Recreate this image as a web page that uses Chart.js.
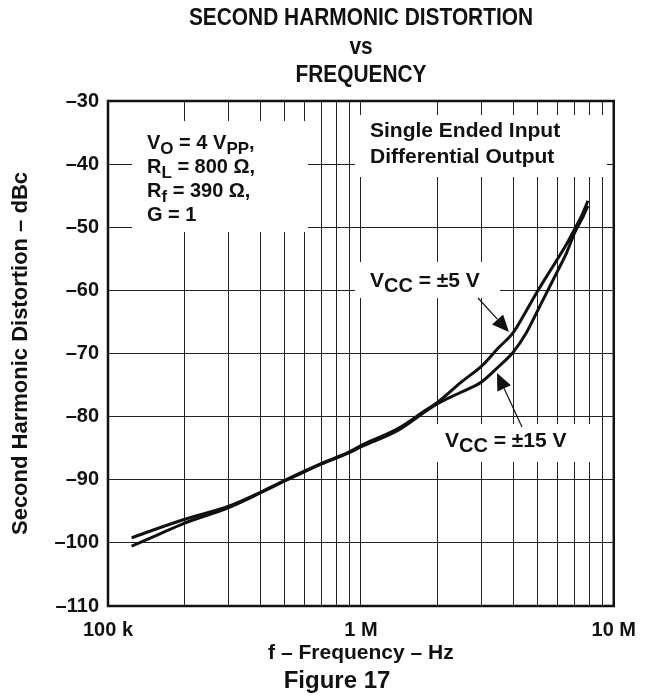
<!DOCTYPE html>
<html><head><meta charset="utf-8">
<script src="https://cdn.jsdelivr.net/npm/chart.js@4/dist/chart.umd.min.js"></script>
<style>html,body{margin:0;padding:0;background:#fff}#wrap{width:648px;height:700px}</style>
</head><body><div id="wrap"><canvas id="c" width="648" height="700"></canvas></div>
<script>
// ---- data ----
const freqHz = [124e3, 150e3, 200e3, 300e3, 400e3, 500e3, 600e3, 700e3, 900e3, 1e6, 1.4e6, 1.8e6, 2e6, 2.5e6, 3e6, 3.5e6, 4e6, 4.5e6, 5e6, 5.5e6, 6e6, 6.5e6, 7e6, 7.5e6, 7.9e6];
const vcc5  = [-99.2, -98.0, -96.3, -94.2, -92.0, -90.1, -88.6, -87.4, -85.6, -84.6, -81.9, -79.0, -77.8, -74.5, -72.0, -69.1, -66.7, -63.3, -60.1, -57.4, -55.0, -52.7, -50.3, -48.0, -45.8];
const vcc15 = [-100.5, -99.1, -96.9, -94.4, -92.1, -90.2, -88.7, -87.5, -85.7, -84.8, -82.2, -79.2, -78.0, -76.1, -74.5, -72.1, -69.8, -66.8, -63.2, -59.9, -56.9, -54.1, -50.9, -48.6, -46.6];
const seriesNames = ['VCC = ±5 V', 'VCC = ±15 V'];

const xGridValues = [1e5, 2e5, 3e5, 4e5, 5e5, 6e5, 7e5, 8e5, 9e5, 1e6, 2e6, 3e6, 4e6, 5e6, 6e6, 7e6, 8e6, 9e6, 1e7];
const xTickValues = [1e5, 1e6, 1e7];
const xTickLabels = ['100 k', '1 M', '10 M'];
const yTickValues = [-110, -100, -90, -80, -70, -60, -50, -40, -30];
const yTickLabels = ['–110', '–100', '–90', '–80', '–70', '–60', '–50', '–40', '–30'];

const titleLines = ['SECOND HARMONIC DISTORTION', 'vs', 'FREQUENCY'];
const xTitle = 'f – Frequency – Hz';
const yTitle = 'Second Harmonic Distortion – dBc';
const figLabel = 'Figure 17';

const FONT = '"Liberation Sans", Arial, Helvetica, sans-serif';

function rich(ctx, x, y, parts, size, subSize) {
  let cx = x;
  for (const [t, sub] of parts) {
    ctx.font = `bold ${sub ? subSize : size}px ${FONT}`;
    ctx.fillText(t, cx, sub ? y + 5 : y);
    cx += ctx.measureText(t).width;
  }
}
function arrow(ctx, x1, y1, x2, y2) {
  const a = Math.atan2(y2 - y1, x2 - x1);
  const L = 17, W = 7.5;
  ctx.beginPath();
  ctx.moveTo(x1, y1);
  ctx.lineTo(x2 - L * Math.cos(a), y2 - L * Math.sin(a));
  ctx.lineWidth = 1.2; ctx.strokeStyle = '#111'; ctx.stroke();
  ctx.beginPath();
  ctx.moveTo(x2, y2);
  ctx.lineTo(x2 - L * Math.cos(a) + W * Math.sin(a), y2 - L * Math.sin(a) - W * Math.cos(a));
  ctx.lineTo(x2 - L * Math.cos(a) - W * Math.sin(a), y2 - L * Math.sin(a) + W * Math.cos(a));
  ctx.closePath(); ctx.fillStyle = '#111'; ctx.fill();
}

const annot = {
  id: 'annot',
  beforeDatasetsDraw(chart) {
    const ctx = chart.ctx;
    ctx.save();
    ctx.fillStyle = '#fff';
    ctx.fillRect(132, 121, 176, 111);
    ctx.fillRect(355, 115, 252, 62);
    ctx.fillRect(355, 262, 145, 36);
    ctx.fillRect(432, 424, 158, 38);
    ctx.fillStyle = '#111';
    ctx.textBaseline = 'alphabetic';
    ctx.textAlign = 'left';
    rich(ctx, 147, 149, [['V', 0], ['O', 1], [' = 4 V', 0], ['PP', 1], [',', 0]], 20, 17);
    rich(ctx, 147, 173, [['R', 0], ['L', 1], [' = 800 Ω,', 0]], 20, 17);
    rich(ctx, 147, 197, [['R', 0], ['f', 1], [' = 390 Ω,', 0]], 20, 17);
    rich(ctx, 147, 221, [['G = 1', 0]], 20, 17);
    rich(ctx, 370, 137, [['Single Ended Input', 0]], 21, 17);
    rich(ctx, 370, 163, [['Differential Output', 0]], 21, 17);
    rich(ctx, 370, 287, [['V', 0], ['CC', 1], [' = ±5 V', 0]], 21, 20);
    rich(ctx, 445, 447, [['V', 0], ['CC', 1], [' = ±15 V', 0]], 21, 20);
    ctx.restore();
  },
  afterDatasetsDraw(chart) {
    const ctx = chart.ctx, a = chart.chartArea;
    ctx.save();
    arrow(ctx, 478, 298, 509, 332);
    arrow(ctx, 522, 427, 497, 373);
    ctx.lineWidth = 2.5; ctx.strokeStyle = '#111';
    ctx.strokeRect(a.left, a.top, a.right - a.left, a.bottom - a.top);
    ctx.fillStyle = '#111';
    ctx.textAlign = 'center';
    ctx.font = `bold 24px ${FONT}`;
    ctx.save();
    ctx.translate(361, 0);
    ctx.scale(0.87, 1);
    ctx.fillText(titleLines[0], 0, 25);
    ctx.fillText(titleLines[1], 0, 54);
    ctx.fillText(titleLines[2], 0, 82);
    ctx.restore();
    ctx.font = `bold 24px ${FONT}`;
    ctx.fillText(figLabel, 337, 688);
    ctx.restore();
  }
};

new Chart(document.getElementById('c'), {
  type: 'line',
  data: {
    datasets: [
      { label: seriesNames[0], data: freqHz.map((f, i) => ({ x: f, y: vcc5[i] })) },
      { label: seriesNames[1], data: freqHz.map((f, i) => ({ x: f, y: vcc15[i] })) }
    ]
  },
  options: {
    responsive: false,
    animation: false,
    layout: { padding: { top: 101, right: 33, left: 0, bottom: 0 } },
    elements: {
      line: { borderColor: '#111', borderWidth: 3, cubicInterpolationMode: 'monotone', fill: false },
      point: { radius: 0 }
    },
    plugins: { legend: { display: false }, tooltip: { enabled: false }, title: { display: false } },
    scales: {
      x: {
        type: 'logarithmic', min: 1e5, max: 1e7,
        afterBuildTicks: s => { s.ticks = xGridValues.map(v => ({ value: v })); },
        afterFit: s => { s.height = 94; },
        grid: { color: '#222', lineWidth: 1, drawTicks: false },
        border: { display: false },
        ticks: {
          autoSkip: false, maxRotation: 0, padding: 12, color: '#111',
          font: { family: FONT, size: 20, weight: 'bold' },
          callback: v => { const i = xTickValues.indexOf(v); return i >= 0 ? xTickLabels[i] : ''; }
        },
        title: { display: true, text: xTitle, color: '#111', font: { family: FONT, size: 21, weight: 'bold' }, padding: { top: 0, bottom: 34 } }
      },
      y: {
        type: 'linear', min: -110, max: -30,
        afterBuildTicks: s => { s.ticks = yTickValues.map(v => ({ value: v })); },
        afterFit: s => { s.width = 108; },
        grid: { color: '#222', lineWidth: 1, drawTicks: false },
        border: { display: false },
        ticks: {
          padding: 9, color: '#111',
          font: { family: FONT, size: 20, weight: 'bold' },
          callback: v => { const i = yTickValues.indexOf(v); return i >= 0 ? yTickLabels[i] : ''; }
        },
        title: { display: true, text: yTitle, color: '#111', font: { family: FONT, size: 22, weight: 'bold' }, padding: { top: 8, bottom: 0 } }
      }
    }
  },
  plugins: [annot]
});
</script></body></html>
